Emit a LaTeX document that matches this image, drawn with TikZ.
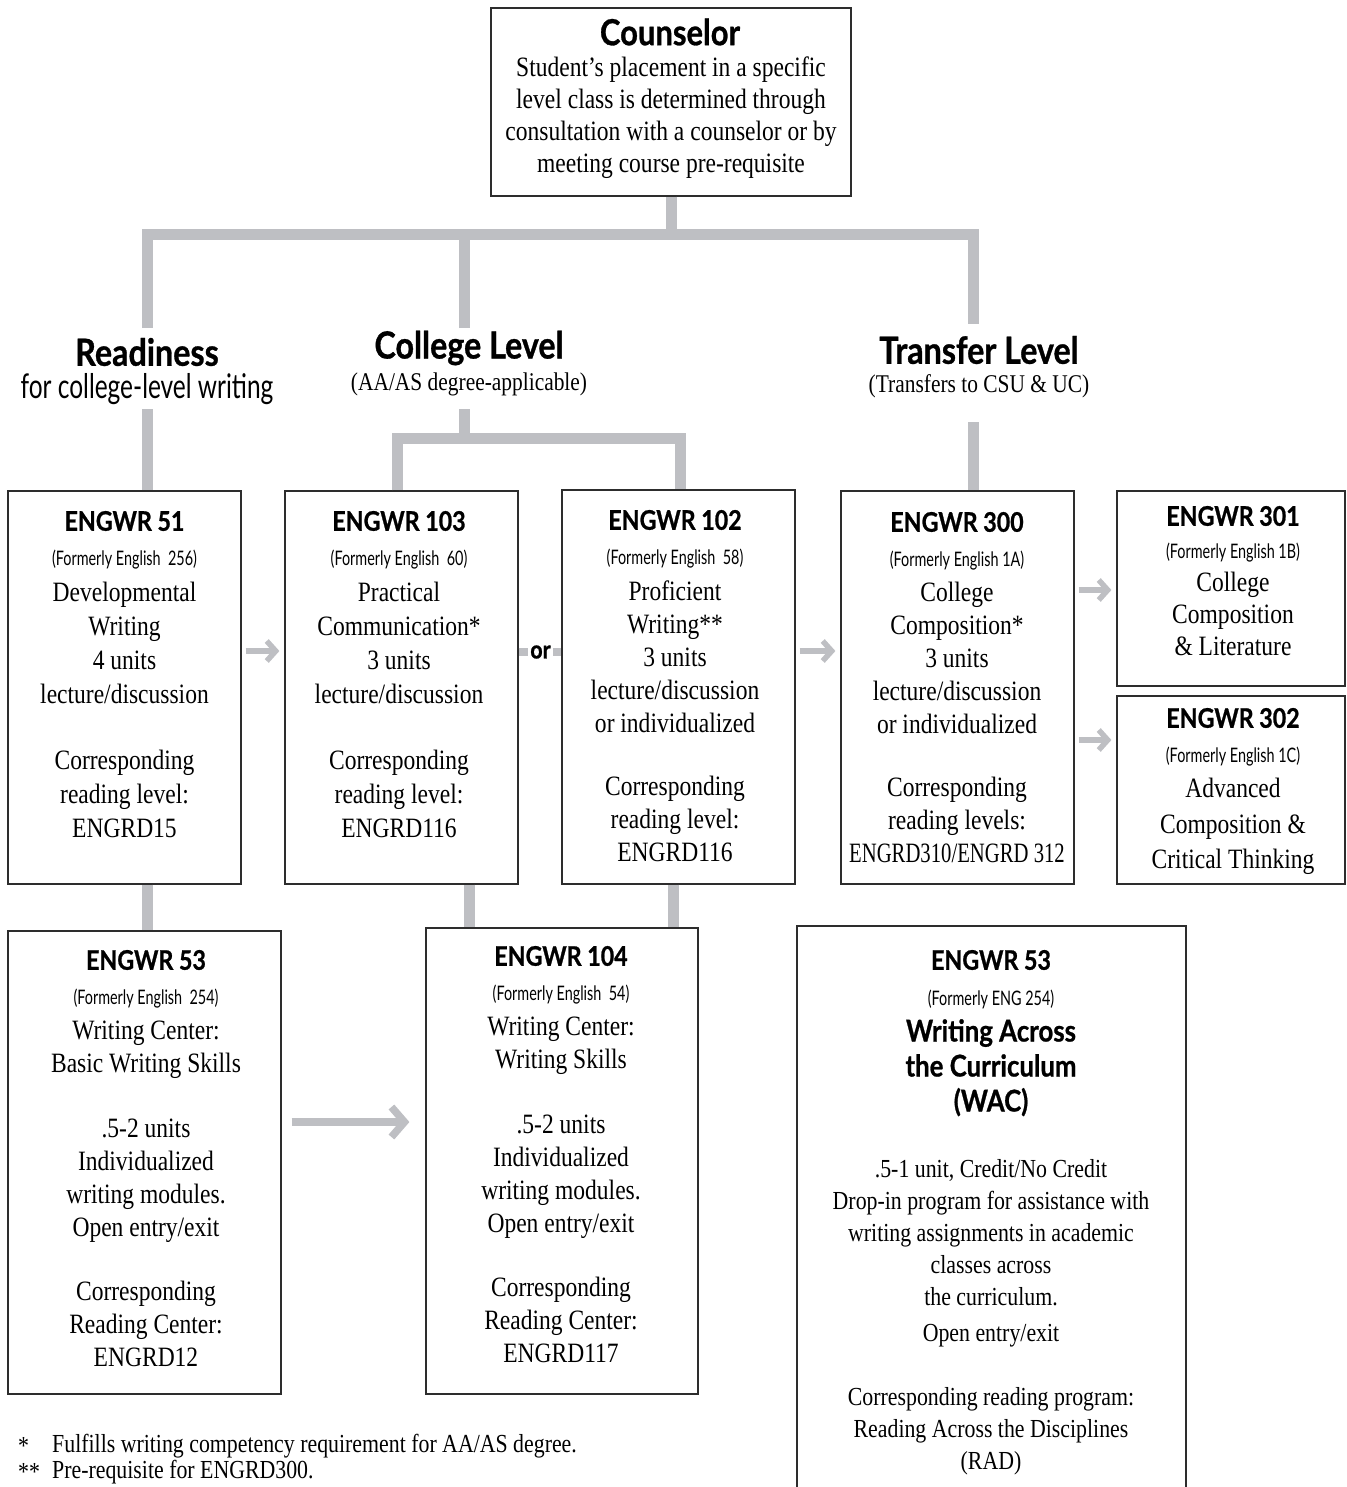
\documentclass[tikz,border=0pt]{standalone}
\usepackage{fontspec}
\setmainfont{Liberation Serif}[FakeStretch=0.84]
\newfontfamily\gillsans{Lato}[FakeStretch=0.86, BoldFeatures={FakeBold=0.8}]
\newfontfamily\gillnarrow{Lato}[FakeStretch=0.72]
\usetikzlibrary{arrows.meta, positioning}
\definecolor{bargray}{RGB}{190,191,195}
\definecolor{boxline}{RGB}{45,45,45}

\begin{document}
\begin{tikzpicture}[x=1pt, y=-1pt,
    box/.style={draw=boxline, line width=1.2pt, inner sep=0pt},
    bar/.style={draw=bargray, line width=11pt, line join=miter},
    arr/.style={draw=bargray, line width=5.5pt, -{Straight Barb[length=9pt, width=20pt]}},
    lvlhead/.style={inner sep=0pt, font=\gillsans\bfseries\fontsize{37.5}{40}\selectfont},
    lvlsub/.style={inner sep=0pt, font=\fontsize{25.5}{30}\selectfont},
    course/.style={font=\gillsans\bfseries\fontsize{27}{30}\selectfont},
    former/.style={font=\gillnarrow\fontsize{20}{22}\selectfont},
    body/.style={anchor=north, align=center, inner sep=0pt, font=\fontsize{28}{34}\selectfont},
    note/.style={anchor=west, inner sep=0pt, font=\fontsize{26}{30}\selectfont},
  ]
  \useasboundingbox (0,0) rectangle (1346,1487);

  % counselor
  \node[box, minimum width=360pt, minimum height=188pt] (cns) at (671,102) {};
  \node[lvlhead, font=\gillsans\bfseries\fontsize{36}{40}\selectfont] (cnst) at (670,32) {Counselor};
  \node[body, font=\fontsize{28}{32}\selectfont] (cnsb) at (671,57)
    {Student’s placement in a specific\\level class is determined through\\consultation with a counselor or by\\meeting course pre-requisite};

  % levels
  \node[lvlhead] (rdy) at (147,352) {Readiness};
  \node[inner sep=0pt, font=\gillnarrow\fontsize{34}{36}\selectfont] (rdys) at (147,389) {for college-level writing};
  \node[lvlhead] (clg) at (469,348) {College Level};
  \node[lvlsub] (clgs) at (469,384) {(AA/AS degree-applicable)};
  \node[lvlhead] (trf) at (979,350) {Transfer Level};
  \node[lvlsub] (trfs) at (979,386) {(Transfers to CSU \& UC)};

  \coordinate (hub) at (671,234.5);
  \coordinate (rdytop) at (147,328);
  \coordinate (clgtop) at (464.5,328);
  \coordinate (trftop) at (973.5,324);
  \coordinate (rdybot) at (147,409);
  \coordinate (clgbot) at (464.5,409);
  \coordinate (trfbot) at (973.5,422);
  \coordinate (clgfork) at (464.5,438);

  % row one
  \node[box, minimum width=233pt, minimum height=393pt] (e51) at (124.5,687.5) {};
  \node[course] (e51t) at (124.5,521) {ENGWR 51};
  \node[former] (e51f) at (124.5,560) {(Formerly English\ \ 256)};
  \node[body] (e51b) at (124.5,582)
    {Developmental\\Writing\\4 units\\lecture/discussion\\[32pt]Corresponding\\reading level:\\ENGRD15};

  \node[box, minimum width=233pt, minimum height=393pt] (e103) at (401.5,687.5) {};
  \node[course] (e103t) at (399,521) {ENGWR 103};
  \node[former] (e103f) at (399,560) {(Formerly English\ \ 60)};
  \node[body] (e103b) at (399,582)
    {Practical\\Communication*\\3 units\\lecture/discussion\\[32pt]Corresponding\\reading level:\\ENGRD116};

  \node[box, minimum width=233pt, minimum height=394pt] (e102) at (678.5,687) {};
  \node[course] (e102t) at (675,520) {ENGWR 102};
  \node[former] (e102f) at (675,559) {(Formerly English\ \ 58)};
  \node[body, font=\fontsize{28}{33}\selectfont] (e102b) at (675,581)
    {Proficient\\Writing**\\3 units\\lecture/discussion\\or individualized\\[30pt]Corresponding\\reading level:\\ENGRD116};

  \node[box, minimum width=233pt, minimum height=393pt] (e300) at (957.5,687.5) {};
  \node[course] (e300t) at (957,522) {ENGWR 300};
  \node[former] (e300f) at (957,561) {(Formerly English 1A)};
  \node[body, font=\fontsize{28}{33}\selectfont] (e300b) at (957,582)
    {College\\Composition*\\3 units\\lecture/discussion\\or individualized\\[30pt]Corresponding\\reading levels:\\\scalebox{0.88}[1]{ENGRD310/ENGRD 312}};

  \node[box, minimum width=228pt, minimum height=195pt] (e301) at (1231,588.5) {};
  \node[course] (e301t) at (1233,516) {ENGWR 301};
  \node[former] (e301f) at (1233,553) {(Formerly English 1B)};
  \node[body, font=\fontsize{28}{32}\selectfont] (e301b) at (1233,572)
    {College\\Composition\\\& Literature};

  \node[box, minimum width=228pt, minimum height=188pt] (e302) at (1231,790) {};
  \node[course] (e302t) at (1233,718) {ENGWR 302};
  \node[former] (e302f) at (1233,757) {(Formerly English 1C)};
  \node[body, font=\fontsize{28}{35.5}\selectfont] (e302b) at (1233,778)
    {Advanced\\Composition \&\\Critical Thinking};

  % row two
  \node[box, minimum width=273pt, minimum height=463pt] (e53) at (144.5,1162.5) {};
  \node[course] (e53t) at (146,960) {ENGWR 53};
  \node[former] (e53f) at (146,999) {(Formerly English\ \ 254)};
  \node[body, font=\fontsize{28}{33}\selectfont] (e53b) at (146,1021)
    {Writing Center:\\Basic Writing Skills\\[32pt].5-2 units\\Individualized\\writing modules.\\Open entry/exit\\[31pt]Corresponding\\Reading Center:\\ENGRD12};

  \node[box, minimum width=272pt, minimum height=466pt] (e104) at (562,1161) {};
  \node[course] (e104t) at (561,956) {ENGWR 104};
  \node[former] (e104f) at (561,995) {(Formerly English\ \ 54)};
  \node[body, font=\fontsize{28}{33}\selectfont] (e104b) at (561,1017)
    {Writing Center:\\Writing Skills\\[32pt].5-2 units\\Individualized\\writing modules.\\Open entry/exit\\[31pt]Corresponding\\Reading Center:\\ENGRD117};

  \node[box, minimum width=389pt, minimum height=566pt] (wac) at (991.5,1209) {};
  \node[course] (wact) at (991,960) {ENGWR 53};
  \node[former] (wacf) at (991,999) {(Formerly ENG 254)};
  \node[course, align=center, anchor=north, inner sep=0pt, font=\gillsans\bfseries\fontsize{30}{35}\selectfont] (wacn) at (991,1019)
    {Writing Across\\the Curriculum\\(WAC)};
  \node[body, font=\fontsize{26}{32}\selectfont] (wacb) at (991,1159)
    {.5-1 unit, Credit/No Credit\\Drop-in program for assistance with\\writing assignments in academic\\classes across\\the curriculum.\\[4pt]Open entry/exit\\[32pt]Corresponding reading program:\\Reading Across the Disciplines\\(RAD)};

  % footnotes
  \node[note] (n1s) at (18,1446) {*};
  \node[note] (n1) at (52,1446) {Fulfills writing competency requirement for AA/AS degree.};
  \node[note] (n2s) at (18,1472) {**};
  \node[note] (n2) at (52,1472) {Pre-requisite for ENGRD300.};

  % connectors
  \draw[bar] (cns.south) -- (hub);
  \draw[bar] (rdytop) -- (rdytop |- hub) -- (trftop |- hub) -- (trftop);
  \draw[bar] (clgtop) -- (clgtop |- hub);
  \draw[bar] (rdybot) -- (rdybot |- e51.north);
  \draw[bar] (clgbot) -- (clgfork);
  \draw[bar] (e103.north -| 397.5,0) -- (397.5,438) -- (680.5,438) -- (e102.north -| 680.5,0);
  \draw[bar] (trfbot) -- (trfbot |- e300.north);
  \draw[bar] (e51.south -| rdybot) -- (e53.north -| rdybot);
  \draw[bar] (e103.south -| 469,0) -- (e104.north -| 469,0);
  \draw[bar] (e102.south -| 673,0) -- (e104.north -| 673,0);

  % or
  \node[font=\gillsans\bfseries\fontsize{25}{28}\selectfont, inner sep=2pt] (or) at (540.5,652) {or};
  \draw[bar, line width=8pt] (e103.east |- or) -- (or.west);
  \draw[bar, line width=8pt] (or.east) -- (e102.west |- or);

  % arrows
  \draw[arr] ([xshift=4pt]e51.east |- 0,651) -- ([xshift=-5pt]e103.west |- 0,651);
  \draw[arr] ([xshift=4pt]e102.east |- 0,651) -- ([xshift=-5pt]e300.west |- 0,651);
  \draw[arr] ([xshift=4pt]e300.east |- 0,590) -- ([xshift=-5pt]e301.west |- 0,590);
  \draw[arr] ([xshift=4pt]e300.east |- 0,740) -- ([xshift=-5pt]e302.west |- 0,740);
  \draw[arr, line width=7.5pt, -{Straight Barb[length=13pt, width=30pt]}] ([xshift=10pt]e53.east |- 0,1122) -- ([xshift=-16pt]e104.west |- 0,1122);
\end{tikzpicture}
\end{document}
